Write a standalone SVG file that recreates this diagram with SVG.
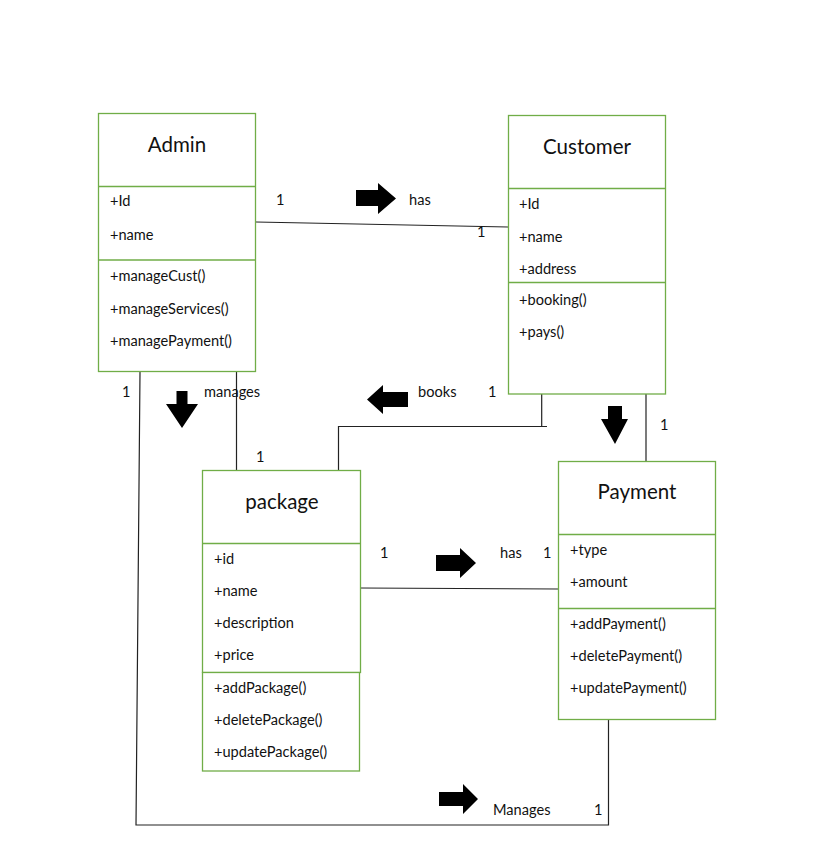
<svg xmlns="http://www.w3.org/2000/svg" width="840" height="860" viewBox="0 0 840 860">
<style>
.box{fill:#fff;stroke:#70AD47;stroke-width:1.3}
.div{stroke:#70AD47;stroke-width:1.3}
.title{font-family:Lato,"Liberation Sans",sans-serif;font-size:20.5px;fill:#111;text-anchor:middle}
.t{font-family:Lato,"Liberation Sans",sans-serif;font-size:14.6px;fill:#111}
.ln{fill:none;stroke:#222;stroke-width:1.2}
.arr{fill:#000}
</style>
<rect width="840" height="860" fill="#fff"/>
<g id="connectors">
  <path class="ln" d="M256,222 L508,227"/>
  <path class="ln" d="M236.5,372 L236.5,470"/>
  <path class="ln" d="M140,372 L136,825 L608.5,825 L608.5,719"/>
  <path class="ln" d="M541.7,394 L541.7,426.5 M547,426.5 L338.5,426.5 L338.5,470"/>
  <path class="ln" d="M646,394 L646,461"/>
  <path class="ln" d="M360,588 L558,589"/>
  <path class="arr" d="M356,190 L378,190 L378,183 L396,198.5 L378,214 L378,206 L356,206 Z"/>
  <path class="arr" d="M436,555 L460,555 L460,548 L476,563 L460,578 L460,571 L436,571 Z"/>
  <path class="arr" d="M439,792 L463,792 L463,784 L478,799 L463,814 L463,806 L439,806 Z"/>
  <path class="arr" d="M408,392 L383,392 L383,385 L367,399.5 L383,414 L383,407 L408,407 Z"/>
  <path class="arr" d="M176.5,391 L187.5,391 L187.5,404 L198,404 L182,428 L166,404 L176.5,404 Z"/>
  <path class="arr" d="M608,406 L622,406 L622,419 L628,419 L615,444 L601,419 L608,419 Z"/>
  <text class="t" x="276" y="205">1</text>
  <text class="t" x="409" y="205">has</text>
  <text class="t" x="477" y="237">1</text>
  <text class="t" x="122" y="397">1</text>
  <text class="t" x="204" y="397">manages</text>
  <text class="t" x="256" y="462">1</text>
  <text class="t" x="418" y="397">books</text>
  <text class="t" x="488" y="397">1</text>
  <text class="t" x="660" y="430">1</text>
  <text class="t" x="380" y="558">1</text>
  <text class="t" x="500" y="558">has</text>
  <text class="t" x="543" y="558">1</text>
  <text class="t" x="493" y="815">Manages</text>
  <text class="t" x="594" y="815">1</text>
</g>
<g id="admin">
  <rect class="box" x="98.5" y="113.5" width="157" height="258"/>
  <line class="div" x1="98.5" y1="186.5" x2="255.5" y2="186.5"/>
  <line class="div" x1="98.5" y1="260" x2="255.5" y2="260"/>
  <text class="title" x="177" y="152">Admin</text>
  <text class="t" x="110" y="206">+Id</text>
  <text class="t" x="110" y="240">+name</text>
  <text class="t" x="110" y="281">+manageCust()</text>
  <text class="t" x="110" y="314">+manageServices()</text>
  <text class="t" x="110" y="346">+managePayment()</text>
</g>
<g id="customer">
  <rect class="box" x="508.5" y="115.5" width="157" height="278.5"/>
  <line class="div" x1="508.5" y1="188.5" x2="665.5" y2="188.5"/>
  <line class="div" x1="508.5" y1="282.5" x2="665.5" y2="282.5"/>
  <text class="title" x="587" y="154">Customer</text>
  <text class="t" x="519" y="209">+Id</text>
  <text class="t" x="519" y="242">+name</text>
  <text class="t" x="519" y="274">+address</text>
  <text class="t" x="519" y="305">+booking()</text>
  <text class="t" x="519" y="337">+pays()</text>
</g>
<g id="package">
  <rect class="box" x="202.5" y="470.5" width="158" height="202"/>
  <line class="div" x1="202.5" y1="543.5" x2="360.5" y2="543.5"/>
  <rect class="box" x="202.5" y="672.5" width="157" height="98.5"/>
  <text class="title" x="282" y="509">package</text>
  <text class="t" x="214" y="564">+id</text>
  <text class="t" x="214" y="596">+name</text>
  <text class="t" x="214" y="628">+description</text>
  <text class="t" x="214" y="660">+price</text>
  <text class="t" x="214" y="693">+addPackage()</text>
  <text class="t" x="214" y="725">+deletePackage()</text>
  <text class="t" x="214" y="757">+updatePackage()</text>
</g>
<g id="payment">
  <rect class="box" x="558.5" y="461.5" width="157" height="258"/>
  <line class="div" x1="558.5" y1="534.5" x2="715.5" y2="534.5"/>
  <line class="div" x1="558.5" y1="608.5" x2="715.5" y2="608.5"/>
  <text class="title" x="637" y="499">Payment</text>
  <text class="t" x="570" y="555">+type</text>
  <text class="t" x="570" y="587">+amount</text>
  <text class="t" x="570" y="629">+addPayment()</text>
  <text class="t" x="570" y="661">+deletePayment()</text>
  <text class="t" x="570" y="693">+updatePayment()</text>
</g>
</svg>
